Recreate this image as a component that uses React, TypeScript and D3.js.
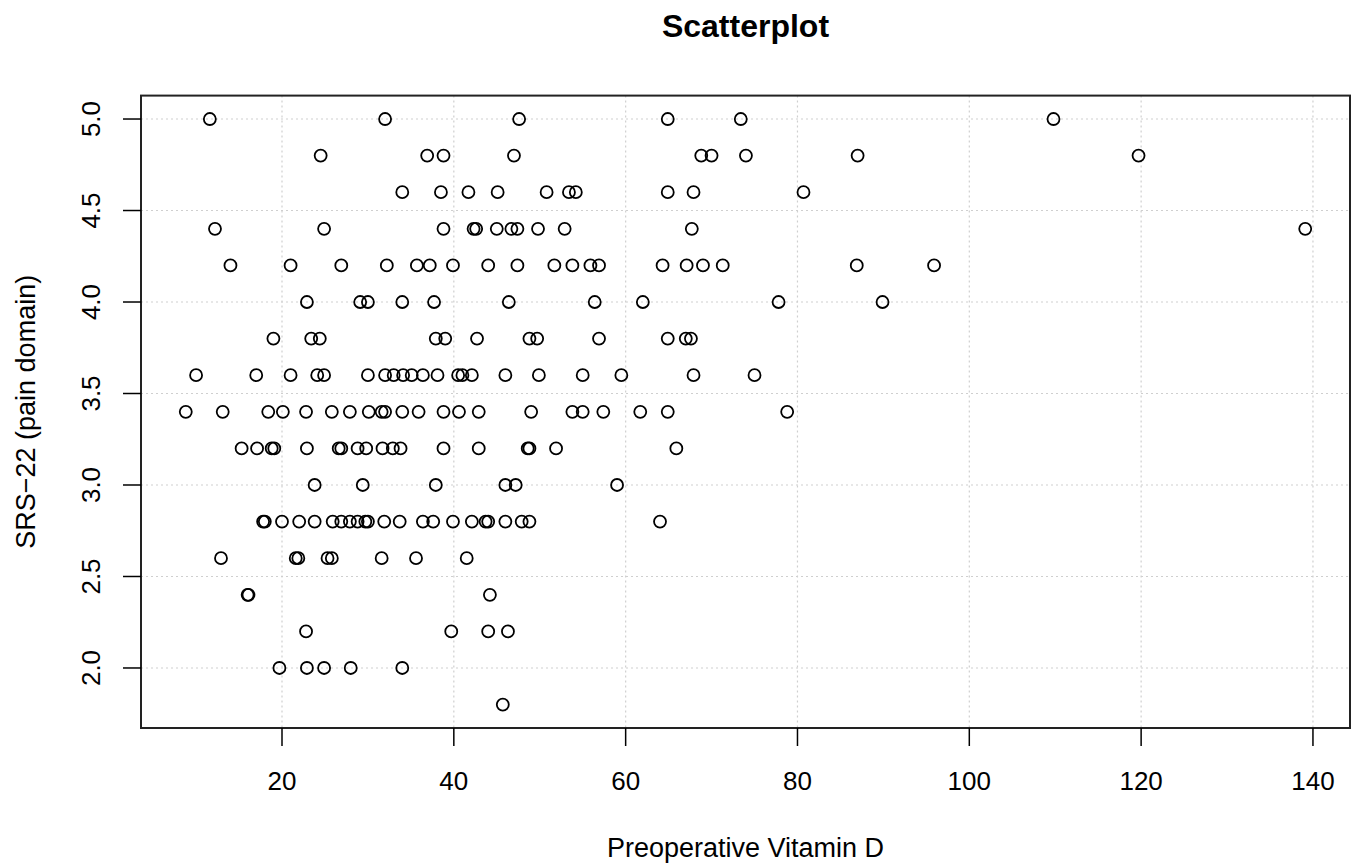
import React from "react";
import * as d3 from "d3";

// SRS-22 pain score levels and the vitamin D readings seen at each level
const srsLevels = [5.0, 4.8, 4.6, 4.4, 4.2, 4.0, 3.8, 3.6, 3.4, 3.2, 3.0, 2.8, 2.6, 2.4, 2.2, 2.0, 1.8];
const vitaminDByLevel = [
    [11.6, 32.0, 47.6, 64.9, 73.4, 109.8],
    [24.5, 36.9, 38.8, 47.0, 68.8, 70.0, 74.0, 87.0, 119.7],
    [34.0, 38.5, 41.7, 45.1, 50.8, 53.4, 54.2, 64.9, 67.9, 80.7],
    [12.2, 24.9, 38.8, 42.3, 42.6, 45.0, 46.7, 47.4, 49.8, 52.9, 67.7, 139.1],
    [14.0, 21.0, 26.9, 32.2, 35.7, 37.2, 39.9, 44.0, 47.4, 51.7, 53.8, 55.9, 56.9, 64.3, 67.1, 69.0, 71.3, 86.9, 95.9],
    [22.9, 29.1, 30.0, 34.0, 37.7, 46.4, 56.4, 62.0, 77.8, 89.9],
    [19.0, 23.4, 24.4, 37.9, 39.0, 42.7, 48.8, 49.7, 56.9, 64.9, 67.0, 67.6],
    [10.0, 17.0, 21.0, 24.1, 24.9, 30.0, 32.0, 33.0, 34.1, 35.1, 36.4, 38.1, 40.5, 41.0, 42.1, 46.0, 49.9, 55.0, 59.5, 67.9, 75.0],
    [8.8, 13.1, 18.4, 20.1, 22.8, 25.8, 27.9, 30.1, 31.6, 32.0, 34.0, 35.9, 38.8, 40.6, 42.9, 49.0, 53.8, 55.0, 57.4, 61.7, 64.9, 78.8],
    [15.3, 17.1, 18.8, 19.1, 22.9, 26.6, 26.9, 28.8, 29.8, 31.7, 32.9, 33.8, 38.8, 42.9, 48.6, 48.8, 51.9, 65.9],
    [23.8, 29.4, 37.9, 46.0, 47.2, 59.0],
    [17.8, 18.0, 20.0, 22.0, 23.8, 25.9, 26.9, 27.9, 28.8, 29.7, 30.0, 31.9, 33.7, 36.4, 37.6, 39.9, 42.1, 43.7, 44.0, 46.0, 47.9, 48.8, 64.0],
    [12.9, 21.6, 21.9, 25.3, 25.8, 31.6, 35.6, 41.5],
    [16.0, 16.1, 44.2],
    [22.8, 39.7, 44.0, 46.3],
    [19.7, 22.9, 24.9, 28.0, 34.0],
    [45.7],
];

const xTicks = [20, 40, 60, 80, 100, 120, 140];
const yTicks = [2.0, 2.5, 3.0, 3.5, 4.0, 4.5, 5.0];

const width = 1353;
const height = 863;
const plot = { left: 141, right: 1350, top: 95.6, bottom: 728 };
const font = "'Liberation Sans', Arial, Helvetica, sans-serif";

// R-style axis range: data extent padded 4% on each side
const pad = (ext) => {
    const d = (ext[1] - ext[0]) * 0.04;
    return [ext[0] - d, ext[1] + d];
};

const App = () => {
    const points = srsLevels.flatMap((s, i) => vitaminDByLevel[i].map((v) => ({ v, s })));

    const x = d3.scaleLinear().domain(pad(d3.extent(points, (d) => d.v))).range([plot.left, plot.right]);
    const y = d3.scaleLinear().domain(pad(d3.extent(points, (d) => d.s))).range([plot.bottom, plot.top]);

    const cx = (plot.left + plot.right) / 2;
    const cy = (plot.top + plot.bottom) / 2;

    return (
        <svg width={width} height={height} style={{ position: "absolute", left: 0, top: 0, background: "#fff" }}>
            <text x={cx} y={37} textAnchor="middle" fontFamily={font} fontWeight="bold" fontSize={32}>
                Scatterplot
            </text>

            {/* grid */}
            <g stroke="#cfcfcf" strokeWidth={1.2} strokeDasharray="2,3">
                {xTicks.map((t) => (
                    <line key={"gx" + t} x1={x(t)} x2={x(t)} y1={plot.top} y2={plot.bottom} />
                ))}
                {yTicks.map((t) => (
                    <line key={"gy" + t} x1={plot.left} x2={plot.right} y1={y(t)} y2={y(t)} />
                ))}
            </g>

            {/* points */}
            <g fill="none" stroke="#000" strokeWidth={1.8}>
                {points.map((d, i) => (
                    <circle key={i} cx={x(d.v)} cy={y(d.s)} r={6} />
                ))}
            </g>

            {/* box */}
            <rect
                x={plot.left}
                y={plot.top}
                width={plot.right - plot.left}
                height={plot.bottom - plot.top}
                fill="none"
                stroke="#222"
                strokeWidth={2}
            />

            {/* axis ticks */}
            <g stroke="#000" strokeWidth={1.5}>
                {xTicks.map((t) => (
                    <line key={"tx" + t} x1={x(t)} x2={x(t)} y1={plot.bottom} y2={plot.bottom + 18} />
                ))}
                {yTicks.map((t) => (
                    <line key={"ty" + t} x1={plot.left} x2={plot.left - 18} y1={y(t)} y2={y(t)} />
                ))}
            </g>
            <g fontFamily={font} fontSize={26} fill="#000">
                {xTicks.map((t) => (
                    <text key={"lx" + t} x={x(t)} y={790} textAnchor="middle">
                        {t}
                    </text>
                ))}
                {yTicks.map((t) => (
                    <text key={"ly" + t} transform={`translate(100,${y(t)}) rotate(-90)`} textAnchor="middle">
                        {t.toFixed(1)}
                    </text>
                ))}
            </g>

            <text x={cx} y={857} textAnchor="middle" fontFamily={font} fontSize={27}>
                Preoperative Vitamin D
            </text>
            <text transform={`translate(35,${cy}) rotate(-90)`} textAnchor="middle" fontFamily={font} fontSize={27}>
                SRS−22 (pain domain)
            </text>
        </svg>
    );
};

export default App;
